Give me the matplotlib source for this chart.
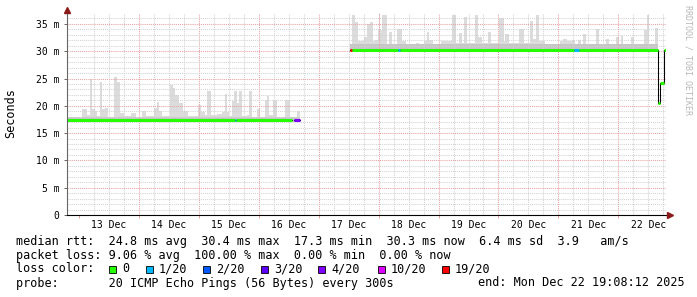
import matplotlib
matplotlib.use("Agg")
import matplotlib.pyplot as plt
from matplotlib.patches import Rectangle

MONO = "DejaVu Sans Mono"
plt.rcParams.update({"font.family": MONO, "text.color": "#000000"})

W, H = 697, 297  # output size in px

# time axis = hours after 13 Dec 00:00; window is the 240 h ending Mon Dec 22 19:08:12
T_START, T_END = -4.87, 235.13
DAY_LABELS = ["13 Dec", "14 Dec", "15 Dec", "16 Dec", "17 Dec",
              "18 Dec", "19 Dec", "20 Dec", "21 Dec", "22 Dec"]
Y_TICKS = [0, 5, 10, 15, 20, 25, 30, 35]
Y_LABELS = ["0", "5 m", "10 m", "15 m", "20 m", "25 m", "30 m", "35 m"]

# smoke (spread of the 20 pings), ms -- first block, 12-16 Dec
smoke1_edges = [-4.87, 1.2, 3.2, 4.4, 5.2, 6.4, 7.2, 8.4, 9.2, 10.4, 11.6, 14.0, 15.2, 16.4,
                18.0, 20.8, 22.8, 25.2, 26.8, 30.0, 31.2, 32.0, 33.2, 36.4, 37.6, 38.4, 40.0,
                41.6, 43.6, 47.6, 48.8, 50.4, 51.2, 52.8, 55.2, 57.2, 58.4, 59.2, 60.0, 61.2,
                62.0, 63.2, 64.0, 65.2, 67.2, 68.0, 69.2, 71.2, 72.4, 74.4, 75.2, 76.0, 77.6,
                79.2, 82.4, 84.4, 87.2, 88.4]
smoke1_top = [18.0, 19.5, 18.3, 25.0, 19.5, 19.0, 18.2, 24.4, 19.5, 19.6,
              18.0, 25.3, 24.4, 18.7, 18.2, 18.6, 18.0, 19.0, 18.2, 19.6,
              20.7, 19.0, 18.2, 23.8, 23.3, 22.0, 20.5, 19.0, 18.2, 20.2,
              18.8, 18.3, 22.8, 18.3, 18.5, 18.8, 22.2, 18.8, 18.2, 20.8,
              22.8, 20.5, 22.8, 18.2, 18.3, 22.8, 18.0, 19.4, 18.0, 21.0,
              21.8, 18.3, 21.0, 18.0, 21.0, 17.8, 19.0]
smoke1_floor, smoke1_core = 17.0, 17.9

# second block, 17-22 Dec
smoke2_edges = [108.4, 109.2, 110.4, 111.6, 114.0, 115.2, 116.4, 117.6, 118.4, 119.6,
                120.0, 120.4, 121.2, 123.2, 124.0, 125.2, 127.2, 129.2, 130.8, 134.8,
                136.0, 138.0, 139.2, 140.0, 141.6, 144.8, 149.2, 150.8, 152.0, 153.2,
                154.0, 155.2, 158.8, 160.0, 161.6, 164.0, 165.2, 168.4, 170.4, 170.8,
                172.4, 176.4, 178.4, 180.8, 182.0, 183.2, 184.4, 186.8, 192.8, 194.0,
                195.6, 197.6, 198.8, 200.0, 201.2, 202.0, 203.2, 207.2, 208.4, 211.2,
                212.4, 215.2, 216.4, 217.2, 218.0, 221.2, 222.4, 226.4, 227.6, 228.4,
                230.8, 232.0]
smoke2_top = [31.0, 36.7, 35.4, 31.9, 32.6, 34.9, 35.4, 31.9, 32.1, 33.8,
              37.0, 33.8, 36.7, 31.0, 33.5, 31.0, 34.1, 31.9, 31.0, 31.5,
              31.0, 31.9, 33.5, 32.0, 31.0, 31.9, 36.7, 31.5, 33.3, 31.5,
              36.2, 31.5, 36.7, 32.6, 31.5, 33.5, 31.5, 36.0, 31.9, 33.2,
              31.5, 34.0, 31.5, 35.6, 32.2, 36.7, 31.8, 31.3, 31.9, 32.3,
              31.9, 32.0, 31.3, 32.0, 31.3, 33.2, 31.3, 34.0, 31.3, 32.2,
              31.3, 32.6, 31.3, 32.7, 31.3, 32.6, 31.3, 33.8, 36.7, 31.3,
              34.2]
smoke2_floor, smoke2_core = 29.8, 31.4

# median rtt runs: start h, end h, ms, loss colour index
med_start = [-4.87, 62.4, 62.8, 86.0,
             108.4, 109.2, 127.6, 128.4, 198.4, 200.4, 232.0, 232.8, 234.4]
med_end = [62.4, 62.8, 85.2, 88.4,
           109.2, 127.6, 128.4, 198.4, 200.4, 232.0, 232.8, 234.4, 235.13]
med_ms = [17.35, 17.35, 17.35, 17.35,
          30.2, 30.2, 30.2, 30.2, 30.2, 30.2, 20.5, 24.2, 30.3]
med_loss = [0, 1, 0, 4,
            6, 0, 1, 0, 1, 0, 0, 0, 0]

LOSS_LABELS = ["0", "1/20", "2/20", "3/20", "4/20", "10/20", "19/20"]
LOSS_COLORS = ["#26ff00", "#00b8ff", "#0059ff", "#5e00ff", "#7e00ff", "#dd00ff", "#ff0000"]

STATS_RTT = "median rtt:  24.8 ms avg  30.4 ms max  17.3 ms min  30.3 ms now  6.4 ms sd  3.9   am/s"
STATS_LOSS = "packet loss: 9.06 % avg  100.00 % max  0.00 % min  0.00 % now"
PROBE = "probe:       20 ICMP Echo Pings (56 Bytes) every 300s"
END = "end: Mon Dec 22 19:08:12 2025"

fig = plt.figure(figsize=(W / 100, H / 100), dpi=100, facecolor="white")
ax = fig.add_axes([67 / W, 1 - 215 / H, 599 / W, 202 / H])
ax.set_xlim(T_START, T_END)
ax.set_ylim(0, 37)
for s in ax.spines.values():
    s.set_visible(False)

# smoke
for edges, top, floor, core in [(smoke1_edges, smoke1_top, smoke1_floor, smoke1_core),
                                (smoke2_edges, smoke2_top, smoke2_floor, smoke2_core)]:
    ax.stairs(top, edges, baseline=floor, fill=True, color="#dcdcdc", lw=0, zorder=1)
    ax.fill_between([edges[0], edges[-1]], floor, core, color="#c6c6c6", lw=0, zorder=1.1)

# grid (rrdtool draws it over the smoke)
dots = (0, (1, 1))
for h in range(6, 235, 6):
    major = h % 24 == 0
    ax.axvline(h, color="#e8a0a0" if major else "#d2d2d2", lw=0.75, ls=dots, zorder=2)
for y in range(1, 37):
    major = y % 5 == 0
    ax.axhline(y, color="#e8a0a0" if major else "#d2d2d2", lw=0.75, ls=dots, zorder=2)

# median: thin black step line, then loss-coloured thick runs
xs, ys = [], []
prev_end = None
for a, b, v in zip(med_start, med_end, med_ms):
    if prev_end is not None and abs(a - prev_end) > 0.01:
        ax.plot(xs, ys, color="black", lw=0.75, zorder=3)
        xs, ys = [], []
    xs += [a, b]
    ys += [v, v]
    prev_end = b
ax.plot(xs, ys, color="black", lw=0.75, zorder=3)
for a, b, v, li in zip(med_start, med_end, med_ms, med_loss):
    ax.plot([a, b], [v, v], color=LOSS_COLORS[li], lw=2.2, solid_capstyle="butt", zorder=4)

# axes with arrows
ax.plot([0, 0], [0, 1.015], transform=ax.transAxes, color="#666666", lw=0.8, clip_on=False, zorder=5)
ax.plot([0, 1.006], [0, 0], transform=ax.transAxes, color="black", lw=0.8, clip_on=False, zorder=5)
ax.plot([0], [1.015], transform=ax.transAxes, marker="^", ms=4, color="#8b1a1a", clip_on=False, zorder=6)
ax.plot([1.006], [0], transform=ax.transAxes, marker=">", ms=4, color="#8b1a1a", clip_on=False, zorder=6)

# ticks
ax.set_yticks(Y_TICKS)
ax.set_yticklabels(Y_LABELS)
ax.tick_params(axis="y", length=2.5, width=0.7, color="#666666", pad=3, labelsize=7)
ax.set_xticks([24 * i for i in range(10)])
ax.set_xticklabels([])
ax.set_xticks([12 + 24 * i for i in range(10)], minor=True)
ax.set_xticklabels(DAY_LABELS, minor=True)
ax.tick_params(axis="x", which="major", length=2.5, width=0.7, color="#e8a0a0")
ax.tick_params(axis="x", which="minor", length=0, pad=3.5, labelsize=7)
ax.tick_params(axis="y", which="minor", length=0)

fig.text(11 / W, 1 - 113 / H, "Seconds", rotation=90, ha="center", va="center", fontsize=8.5)
fig.text(688 / W, 1 - 60 / H, "RRDTOOL / TOBI OETIKER", rotation=270, ha="center", va="center",
         fontsize=6, color="#b8b8b8")

# legend block
def ftxt(x, y, s, **kw):
    fig.text(x / W, 1 - y / H, s, ha="left", va="center", fontsize=8.5, **kw)

ftxt(16, 241, STATS_RTT)
ftxt(16, 255, STATS_LOSS)
ftxt(16, 269, "loss color:")
box_x = [109, 146, 203, 261, 318, 378, 442]
for bx, lab, col in zip(box_x, LOSS_LABELS, LOSS_COLORS):
    fig.add_artist(Rectangle((bx / W, 1 - 272.5 / H), 7 / W, 7 / H, transform=fig.transFigure,
                             facecolor=col, edgecolor="black", lw=0.6))
    ftxt(bx + 13, 269, lab)
ftxt(16, 283, PROBE)
ftxt(478, 283, END)

fig.savefig("out.png", dpi=100, facecolor="white")
